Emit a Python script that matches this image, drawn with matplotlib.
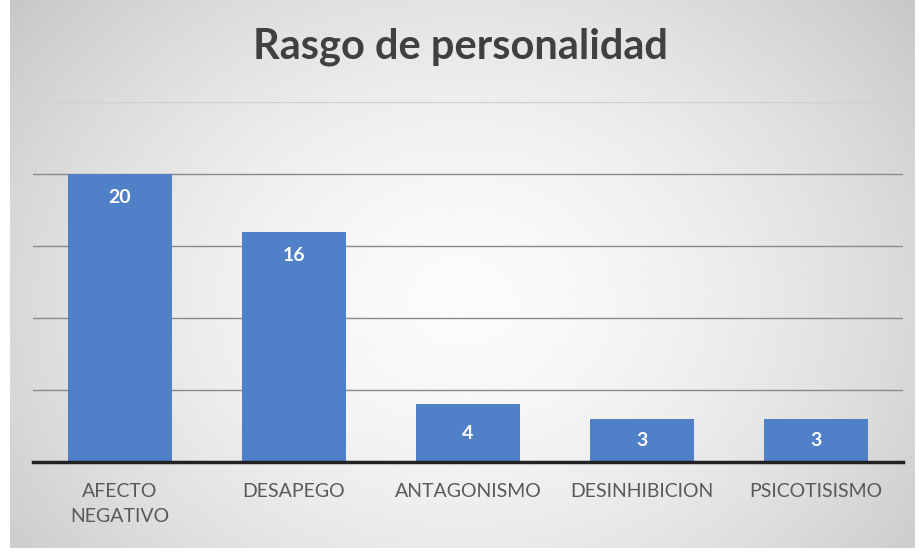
import numpy as np
import matplotlib
matplotlib.use('Agg')
import matplotlib.pyplot as plt

categories = ['AFECTO\nNEGATIVO', 'DESAPEGO', 'ANTAGONISMO', 'DESINHIBICION', 'PSICOTISISMO']
values = [20, 16, 4, 3, 3]
title = 'Rasgo de personalidad'

bar_color = '#5080c8'
text_gray = '#595959'

plt.rcParams['font.family'] = ['Lato', 'DejaVu Sans']

fig = plt.figure(figsize=(9.2, 5.55), dpi=100)
fig.patch.set_facecolor('white')

# radial grey background behind the chart
bg = fig.add_axes([10 / 920, 7 / 555, 905 / 920, 548 / 555])
yy, xx = np.mgrid[0:1:300j, 0:1:500j]
r = np.sqrt(((xx - 0.5) / 0.55) ** 2 + ((yy - 0.55) / 0.75) ** 2)
shade = 0.985 - 0.16 * np.clip(r, 0, 1.3) ** 1.6
bg.imshow(shade, cmap='gray', vmin=0, vmax=1, aspect='auto', extent=[0, 1, 0, 1])
bg.set_axis_off()

ax = fig.add_axes([33 / 920, 93 / 555, 870 / 920, 360 / 555])
ax.patch.set_alpha(0)
x = np.arange(len(categories))
bars = ax.bar(x, values, width=0.6, color=bar_color, zorder=3)
ax.set_xlim(-0.5, len(categories) - 0.5)
ax.set_ylim(0, 25)
for g in [5, 10, 15, 20]:
    ax.axhline(g, color='#8a8a8a', linewidth=1.0, zorder=0)
ax.axhline(25, color='#d0d0d0', linewidth=1.0, zorder=0)
ax.set_yticks([])
ax.set_xticks(x)
ax.set_xticklabels(categories, color=text_gray, fontsize=14, linespacing=1.6)
ax.tick_params(axis='x', length=0, pad=15)
for side in ['top', 'right', 'left']:
    ax.spines[side].set_visible(False)
ax.spines['bottom'].set_color('#222222')
ax.spines['bottom'].set_linewidth(2.5)
ax.spines['bottom'].set_zorder(4)

# labels sit near the top of tall bars, centred in short ones
off = 1.65
for b, v in zip(bars, values):
    ly = v - off if v > 2 * off + 1 else v / 2
    ax.text(b.get_x() + b.get_width() / 2, ly, str(v),
            ha='center', va='center', color='white', fontsize=14,
            fontweight='bold', zorder=5)

fig.text(0.5, 1 - 47 / 555, title, ha='center', va='center',
         fontsize=30, fontweight='bold', color='#404040')

fig.savefig('out.png', dpi=100)
